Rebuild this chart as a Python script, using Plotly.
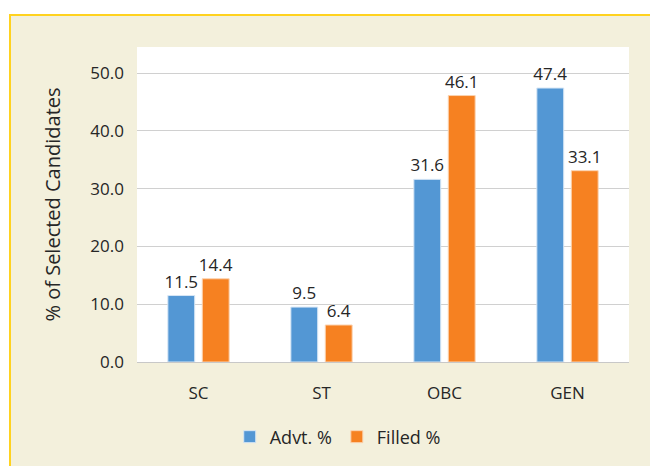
import plotly.graph_objects as go

categories = ["SC", "ST", "OBC", "GEN"]
advt = [11.5, 9.5, 31.6, 47.4]
filled = [14.4, 6.4, 46.1, 33.1]
y_ticks = [0, 10, 20, 30, 40, 50]
y_tick_labels = ["0.0", "10.0", "20.0", "30.0", "40.0", "50.0"]

W, H = 650, 466
L, R, T, B = 137, 21, 47, 104
pw, ph = W - L - R, H - T - B

FONT = "Open Sans"
TXT = "#262626"

fig = go.Figure()
fig.add_trace(go.Bar(
    name="Advt. %", x=categories, y=advt,
    marker=dict(color="#5397D4", line=dict(color="#D6E6F5", width=1)),
    texttemplate="%{y:.1f}", textposition="outside", constraintext="none",
    textfont=dict(family=FONT, size=17, color=TXT), cliponaxis=False,
))
fig.add_trace(go.Bar(
    name="Filled %", x=categories, y=filled,
    marker=dict(color="#F68121", line=dict(color="#FBD3B0", width=1)),
    texttemplate="%{y:.1f}", textposition="outside", constraintext="none",
    textfont=dict(family=FONT, size=17, color=TXT), cliponaxis=False,
))

# cream frame with yellow border (starts at x=10, y=15 px; extends past the right/bottom edges)
fx0 = (10 - L) / pw
fx1 = (W + 20 - L) / pw
fy1 = (H - 15 - B) / ph
fy0 = (-20 - B) / ph
fig.add_shape(type="rect", xref="paper", yref="paper", x0=fx0, x1=fx1, y0=fy0, y1=fy1,
              fillcolor="#F3F0DC", line=dict(color="#FFD21F", width=2), layer="below")
# white plot area
fig.add_shape(type="rect", xref="paper", yref="paper", x0=0, x1=1, y0=0, y1=1,
              fillcolor="white", line=dict(width=0), layer="below")

fig.update_layout(
    width=W, height=H,
    margin=dict(l=L, r=R, t=T, b=B, autoexpand=False),
    paper_bgcolor="white", plot_bgcolor="white",
    barmode="group", bargap=0.44, bargroupgap=0.22,
    font=dict(family=FONT, size=17, color=TXT),
    showlegend=True,
    legend=dict(orientation="h", x=0.408, xanchor="center", y=-0.238, yanchor="middle",
                font=dict(family=FONT, size=18, color=TXT),
                bgcolor="rgba(0,0,0,0)"),
    xaxis=dict(range=[-0.5, 3.5], showgrid=False, showline=True, linecolor="#C8C8C8",
               linewidth=1, ticks="", ticklabelstandoff=16, automargin=False,
               tickfont=dict(family=FONT, size=17, color=TXT)),
    yaxis=dict(range=[0, 54.5], tickvals=y_ticks, ticktext=y_tick_labels,
               showgrid=True, gridcolor="#D0D0D0", gridwidth=1, zeroline=False,
               showline=False, ticks="", ticklabelstandoff=12, automargin=False,
               tickfont=dict(family=FONT, size=17, color=TXT),
               title=dict(text="% of Selected Candidates", standoff=24,
                          font=dict(family=FONT, size=20, color=TXT))),
)

fig.write_html("out.html", config={"displayModeBar": False},
               post_script="document.body.style.margin='0';document.body.style.overflow='hidden';")
